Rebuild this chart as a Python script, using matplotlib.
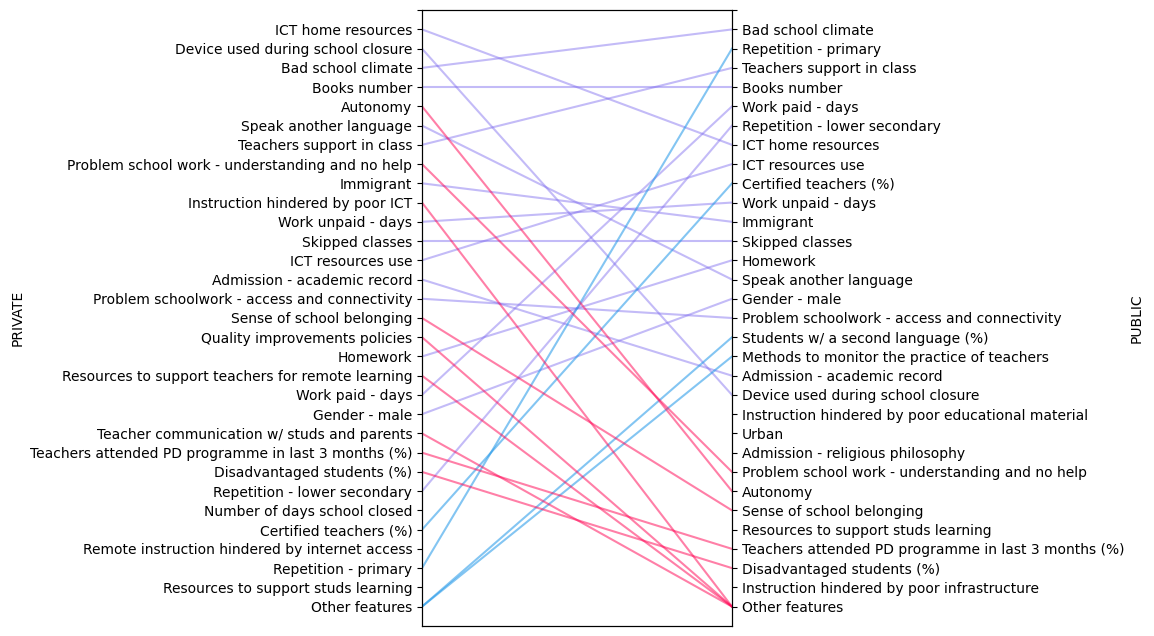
import matplotlib.pyplot as plt

# feature ranking, private schools (top to bottom)
private_labels = [
    "ICT home resources", "Device used during school closure", "Bad school climate",
    "Books number", "Autonomy", "Speak another language", "Teachers support in class",
    "Problem school work - understanding and no help", "Immigrant",
    "Instruction hindered by poor ICT", "Work unpaid - days", "Skipped classes",
    "ICT resources use", "Admission - academic record",
    "Problem schoolwork - access and connectivity", "Sense of school belonging",
    "Quality improvements policies", "Homework",
    "Resources to support teachers for remote learning", "Work paid - days",
    "Gender - male", "Teacher communication w/ studs and parents",
    "Teachers attended PD programme in last 3 months (%)", "Disadvantaged students (%)",
    "Repetition - lower secondary", "Number of days school closed",
    "Certified teachers (%)", "Remote instruction hindered by internet access",
    "Repetition - primary", "Resources to support studs learning", "Other features",
]

# feature ranking, public schools (top to bottom)
public_labels = [
    "Bad school climate", "Repetition - primary", "Teachers support in class",
    "Books number", "Work paid - days", "Repetition - lower secondary",
    "ICT home resources", "ICT resources use", "Certified teachers (%)",
    "Work unpaid - days", "Immigrant", "Skipped classes", "Homework",
    "Speak another language", "Gender - male",
    "Problem schoolwork - access and connectivity",
    "Students w/ a second language (%)", "Methods to monitor the practice of teachers",
    "Admission - academic record", "Device used during school closure",
    "Instruction hindered by poor educational material", "Urban",
    "Admission - religious philosophy", "Problem school work - understanding and no help",
    "Autonomy", "Sense of school belonging", "Resources to support studs learning",
    "Teachers attended PD programme in last 3 months (%)", "Disadvantaged students (%)",
    "Instruction hindered by poor infrastructure", "Other features",
]

# (private feature, public feature, group)
links = [
    ("ICT home resources", "ICT home resources", "same"),
    ("Device used during school closure", "Device used during school closure", "same"),
    ("Bad school climate", "Bad school climate", "same"),
    ("Books number", "Books number", "same"),
    ("Speak another language", "Speak another language", "same"),
    ("Teachers support in class", "Teachers support in class", "same"),
    ("Immigrant", "Immigrant", "same"),
    ("Work unpaid - days", "Work unpaid - days", "same"),
    ("Skipped classes", "Skipped classes", "same"),
    ("ICT resources use", "ICT resources use", "same"),
    ("Admission - academic record", "Admission - academic record", "same"),
    ("Problem schoolwork - access and connectivity", "Problem schoolwork - access and connectivity", "same"),
    ("Homework", "Homework", "same"),
    ("Work paid - days", "Work paid - days", "same"),
    ("Gender - male", "Gender - male", "same"),
    ("Repetition - lower secondary", "Repetition - lower secondary", "same"),
    ("Repetition - primary", "Repetition - primary", "up"),
    ("Certified teachers (%)", "Certified teachers (%)", "up"),
    ("Other features", "Students w/ a second language (%)", "up"),
    ("Other features", "Methods to monitor the practice of teachers", "up"),
    ("Autonomy", "Autonomy", "down"),
    ("Problem school work - understanding and no help", "Problem school work - understanding and no help", "down"),
    ("Instruction hindered by poor ICT", "Other features", "down"),
    ("Sense of school belonging", "Sense of school belonging", "down"),
    ("Quality improvements policies", "Other features", "down"),
    ("Resources to support teachers for remote learning", "Other features", "down"),
    ("Teacher communication w/ studs and parents", "Other features", "down"),
    ("Teachers attended PD programme in last 3 months (%)", "Teachers attended PD programme in last 3 months (%)", "down"),
    ("Disadvantaged students (%)", "Disadvantaged students (%)", "down"),
]

colors = {"same": "#7b68ee", "up": "#1e96e8", "down": "#ff0051"}
alphas = {"same": 0.45, "up": 0.55, "down": 0.5}

fig, ax = plt.subplots(figsize=(11.54, 6.36), dpi=100)
fig.subplots_adjust(left=0.3657, right=0.6343, top=0.984, bottom=0.016)

for left, right, grp in links:
    y0 = private_labels.index(left) + 1
    y1 = public_labels.index(right) + 1
    ax.plot([0, 1], [y0, y1], color=colors[grp], alpha=alphas[grp], lw=1.5)

n = len(private_labels)
ax.set_xlim(0, 1)
ax.set_ylim(n + 1, 0)
ax.set_xticks([])
ax.set_yticks(range(n + 1))
ax.set_yticklabels([""] + private_labels)
ax.set_ylabel("PRIVATE")

ax2 = ax.twinx()
ax2.set_ylim(n + 1, 0)
ax2.set_yticks(range(len(public_labels) + 1))
ax2.set_yticklabels([""] + public_labels)
ax2.set_ylabel("PUBLIC")

fig.savefig("out.png", dpi=100)
